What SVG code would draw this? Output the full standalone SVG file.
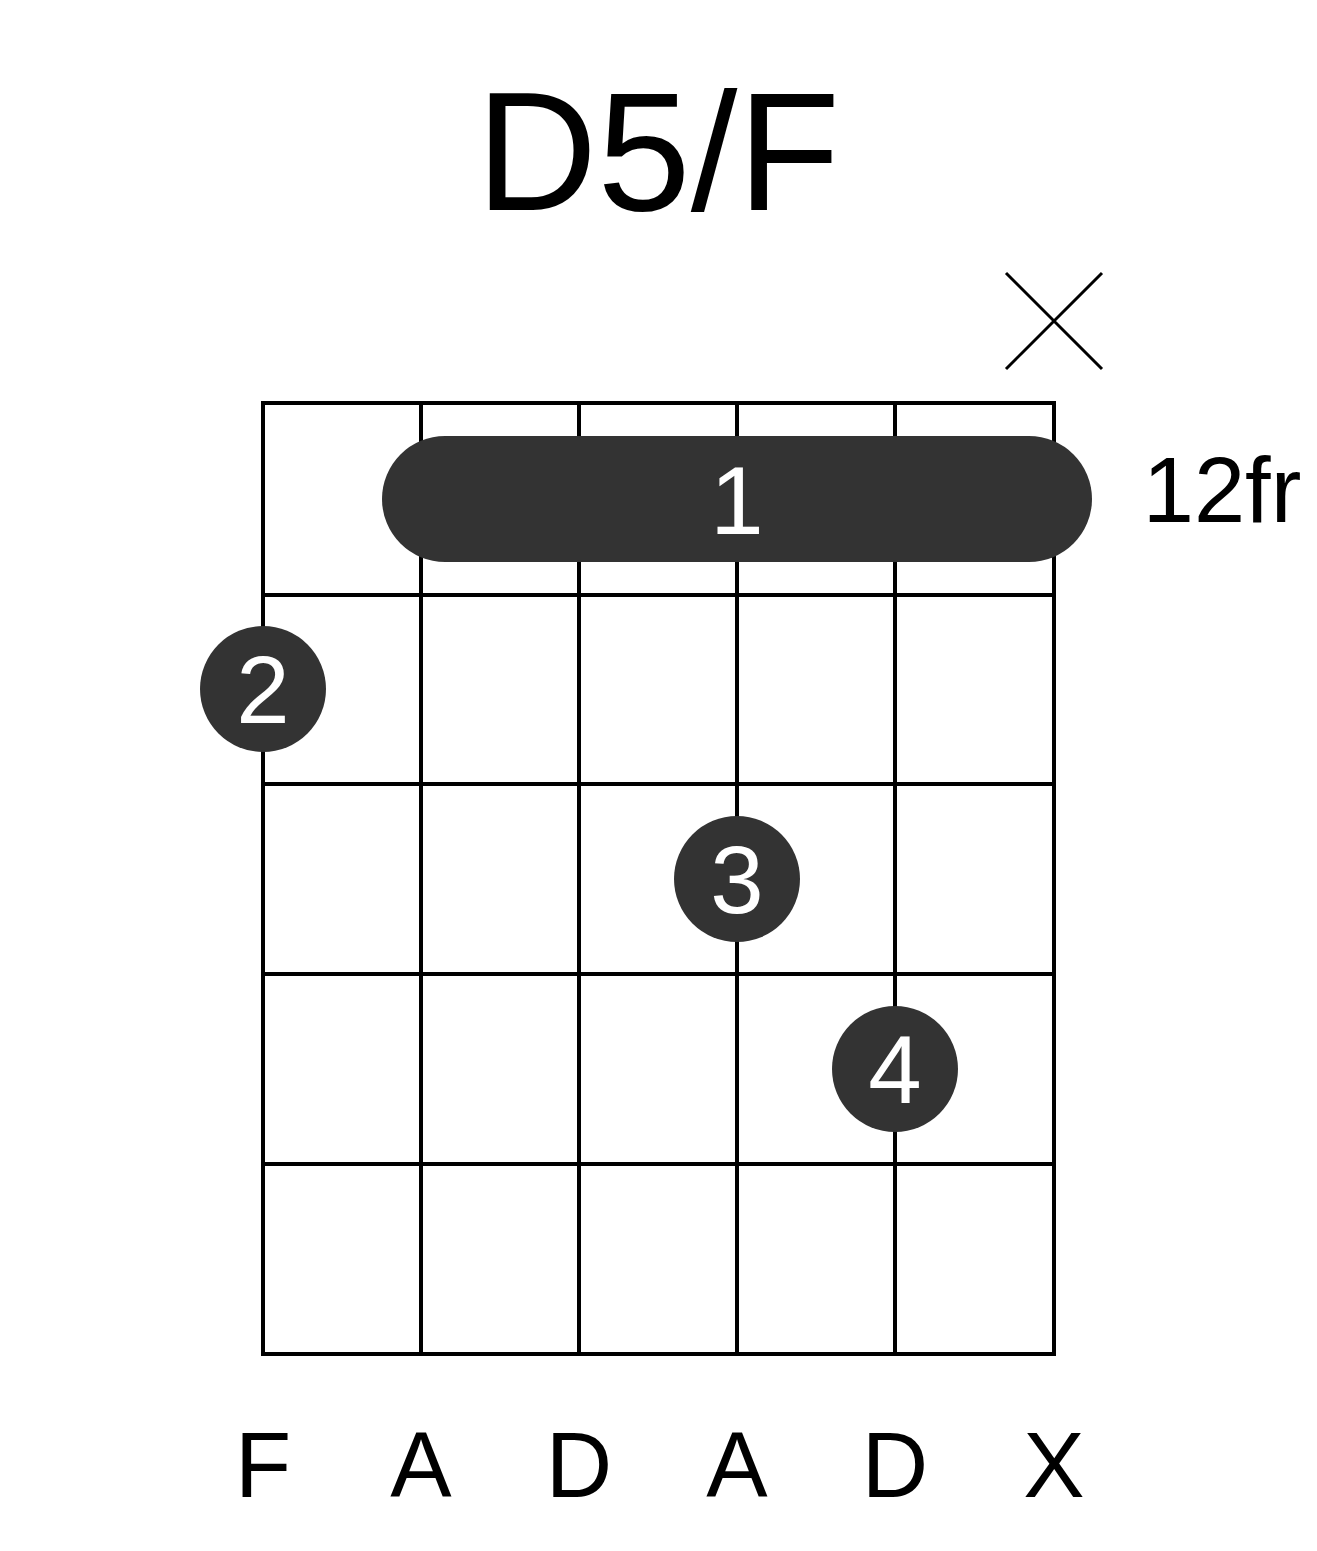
<svg xmlns="http://www.w3.org/2000/svg" width="1317" height="1551" viewBox="0 0 1317 1551">
<style>
.g{stroke:#000;stroke-width:4;fill:none}
.d{fill:#333}
.w{fill:#fff;font-family:"Liberation Sans",Arial,sans-serif;font-size:96px;text-anchor:middle}
.t{fill:#000;font-family:"Liberation Sans",Arial,sans-serif;text-anchor:middle}
</style>
<rect width="1317" height="1551" fill="#fff"/>
<text class="t" x="658" y="210" font-size="168">D5/F</text>
<g id="grid" class="g">
<rect x="263" y="403" width="791" height="951"/>
<path d="M421 403V1354M579 403V1354M737 403V1354M895 403V1354M263 595H1054M263 784H1054M263 974H1054M263 1164H1054"/>
</g>
<g id="mute" stroke="#000" stroke-width="3"><path d="M1006 273L1102 369M1006 369L1102 273"/></g>
<g id="barre"><rect class="d" x="382" y="436" width="710" height="126" rx="63"/><text class="w" x="737" y="534">1</text></g>
<g id="f2"><circle class="d" cx="263" cy="689" r="63"/><text class="w" x="263" y="723">2</text></g>
<g id="f3"><circle class="d" cx="737" cy="879" r="63"/><text class="w" x="737" y="913">3</text></g>
<g id="f4"><circle class="d" cx="895" cy="1069" r="63"/><text class="w" x="895" y="1103">4</text></g>
<text class="t" x="1222" y="522" font-size="92">12fr</text>
<g class="t" font-size="92">
<text x="263" y="1497">F</text><text x="421" y="1497">A</text><text x="579" y="1497">D</text><text x="737" y="1497">A</text><text x="895" y="1497">D</text><text x="1054" y="1497">X</text>
</g>
</svg>
